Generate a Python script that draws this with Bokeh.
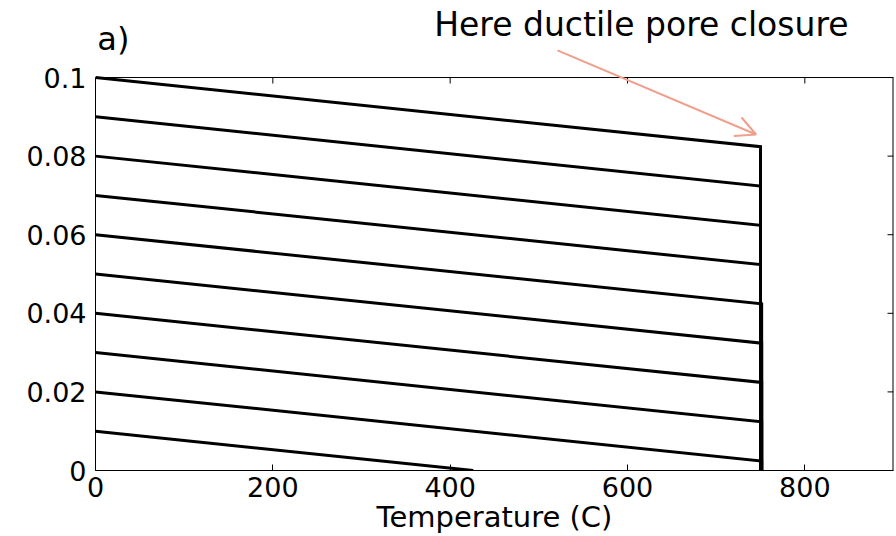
from bokeh.plotting import figure
from bokeh.models import (FixedTicker, CustomJSTickFormatter, Range1d,
                          Label, Arrow, OpenHead, Span)
from bokeh.embed import file_html
from bokeh.resources import INLINE

# Porosity paths versus temperature, one per initial porosity
porosity_start = [0.10, 0.09, 0.08, 0.07, 0.06, 0.05, 0.04, 0.03, 0.02, 0.01]
# porosity reached at the ductile closure temperature (None: reaches zero earlier)
porosity_at_closure = [0.0824, 0.0724, 0.0624, 0.0524, 0.0424, 0.0324, 0.0224, 0.0124, 0.0024, None]
# temperature at which each path drops to zero porosity
closure_temp = [750, 750, 750, 750, 751.3, 751.3, 751.3, 751.3, 751.3, 426]

x_ticks = [0, 200, 400, 600, 800]
y_ticks = [0, 0.02, 0.04, 0.06, 0.08, 0.1]
x_lim = (0, 900)
y_lim = (0, 0.1)

FONT = "DejaVu Sans"
TICK_LEN = 6  # px, inward

# The frame reaches the top of the canvas so the annotation above the box
# (text and arrow) is drawn in data space; the box itself is limited by axis bounds.
y_top = 0.1196
FRAME_H = 470
p = figure(width=896, height=536, output_backend="svg", toolbar_location=None,
           x_range=Range1d(*x_lim), y_range=Range1d(0, y_top),
           min_border_left=95, min_border_right=3, min_border_top=0, min_border_bottom=66,
           x_axis_label="Temperature (C)")
p.grid.visible = False
p.outline_line_color = None
p.background_fill_color = "white"
p.border_fill_color = "white"

for y0, y1, tc in zip(porosity_start, porosity_at_closure, closure_temp):
    if y1 is None:
        xs, ys = [0, tc], [y0, 0]
    else:
        xs, ys = [0, tc, tc], [y0, y1, 0]
    p.line(xs, ys, line_color="black", line_width=3, line_join="miter")

fmt = CustomJSTickFormatter(code="return tick.toFixed(2).replace(/\\.?0+$/, '');")


def style_axis(ax):
    ax.major_tick_in = TICK_LEN
    ax.major_tick_out = 0
    ax.minor_tick_in = 0
    ax.minor_tick_out = 0
    ax.axis_line_color = "black"
    ax.axis_line_width = 1
    ax.major_tick_line_color = "black"
    ax.major_label_text_font = FONT
    ax.major_label_text_color = "black"
    ax.major_label_text_font_size = "27px"
    ax.major_label_standoff = 9


xa = p.xaxis[0]
xa.ticker = FixedTicker(ticks=x_ticks)
style_axis(xa)
xa.major_label_standoff = 6
xa.axis_label_standoff = 0
xa.axis_label_text_font = FONT
xa.axis_label_text_font_size = "29px"
xa.axis_label_text_font_style = "normal"
xa.axis_label_text_color = "black"

ya = p.yaxis[0]
ya.ticker = FixedTicker(ticks=y_ticks)
ya.formatter = fmt
ya.bounds = y_lim
style_axis(ya)

# top and right edges of the box, with inward ticks
p.add_layout(Span(location=y_lim[1], dimension="width", line_color="black", line_width=1))
p.segment(x0=[x_lim[1]], y0=[y_lim[0]], x1=[x_lim[1]], y1=[y_lim[1]],
          line_color="black", line_width=2)
tick_dy = TICK_LEN * y_top / FRAME_H
p.segment(x0=x_ticks, y0=[y_lim[1]] * len(x_ticks), x1=x_ticks,
          y1=[y_lim[1] - tick_dy] * len(x_ticks), line_color="black", line_width=1)
tick_dx = TICK_LEN * (x_lim[1] - x_lim[0]) / 798
p.segment(x0=[x_lim[1]] * len(y_ticks), y0=y_ticks, x1=[x_lim[1] - tick_dx] * len(y_ticks),
          y1=y_ticks, line_color="black", line_width=1)

p.add_layout(Label(x=2, y=0.1097, text="a)", text_font=FONT, text_font_size="32px",
                   text_color="black", text_baseline="alphabetic"))
p.add_layout(Label(x=382, y=0.1135, text="Here ductile pore closure", text_font=FONT,
                   text_font_size="33px", text_color="black", text_baseline="alphabetic"))
p.add_layout(Arrow(x_start=521, y_start=0.1069, x_end=745, y_end=0.0855,
                   line_color="#ef9f8c", line_width=2,
                   end=OpenHead(size=20, line_color="#ef9f8c", line_width=2)))

open("out.html", "w").write(file_html(p, INLINE))
